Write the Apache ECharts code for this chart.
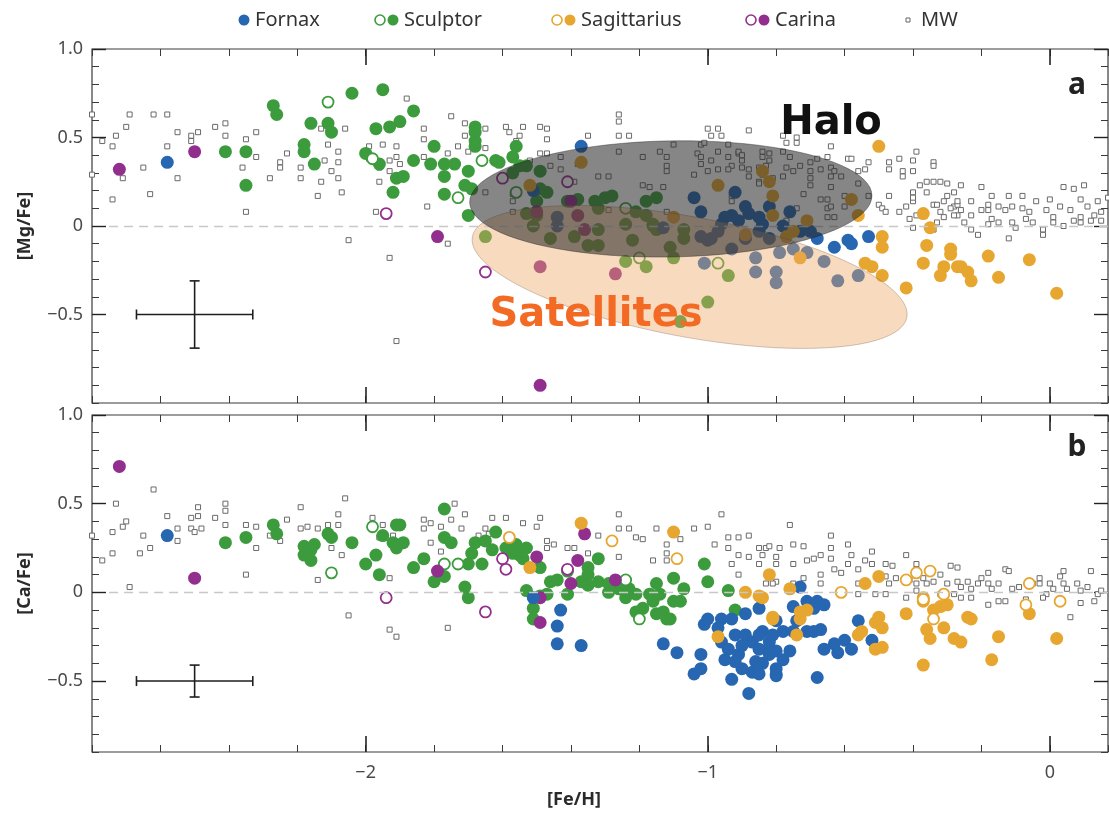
<!DOCTYPE html>
<html><head><meta charset="utf-8">
<script src="https://cdn.jsdelivr.net/npm/echarts@6/dist/echarts.min.js"></script>
<style>html,body{margin:0;padding:0;background:#fff}#c{width:1109px;height:816px}</style>
</head><body><div id="c"></div><script>
// ---------- panel a : [Mg/Fe] vs [Fe/H] ----------
const fornaxMg = [[-2.58,0.36],[-1.37,0.45],[-1.51,0.20],[-1.44,0.05],[-1.44,0.00],[-1.13,-0.01],[-1.04,0.16],[-1.02,0.08],[-1.02,-0.06],[-1.01,-0.21],[-1.00,-0.08],[-0.97,-0.03],[-0.99,-0.07],[-0.95,0.05],[-0.93,0.06],[-0.93,-0.13],[-0.92,0.19],[-0.89,-0.07],[-0.88,0.07],[-0.86,-0.18],[-0.86,-0.26],[-0.85,0.05],[-0.82,-0.07],[-0.82,0.11],[-0.80,-0.26],[-0.80,-0.32],[-0.79,-0.15],[-0.78,0.00],[-0.76,0.08],[-0.75,-0.13],[-0.73,-0.03],[-0.71,-0.15],[-0.70,-0.03],[-0.68,-0.07],[-0.66,-0.20],[-0.63,-0.12],[-0.62,-0.31],[-0.59,-0.08],[-0.58,-0.10],[-0.56,-0.28],[-0.53,-0.06],[-0.91,0.03],[-0.84,0.01],[-0.89,0.11],[-0.96,0.01],[-0.85,-0.03]];
const sculptorMg = [[-2.41,0.42],[-2.35,0.42],[-2.35,0.23],[-2.27,0.68],[-2.26,0.63],[-2.16,0.58],[-2.11,0.58],[-2.10,0.53],[-2.18,0.46],[-2.18,0.42],[-2.15,0.35],[-2.04,0.75],[-1.95,0.77],[-2.00,0.41],[-1.97,0.55],[-1.96,0.35],[-1.93,0.56],[-1.91,0.27],[-1.92,0.19],[-1.86,0.65],[-1.90,0.59],[-1.86,0.37],[-1.80,0.45],[-1.81,0.35],[-1.77,0.35],[-1.74,0.35],[-1.77,0.28],[-1.77,0.18],[-1.70,0.31],[-1.71,0.23],[-1.70,0.06],[-1.68,0.56],[-1.68,0.53],[-1.68,0.48],[-1.68,0.45],[-1.89,0.28],[-1.62,0.37],[-1.56,0.45],[-1.57,0.39],[-1.55,0.34],[-1.49,0.31],[-1.57,0.30],[-1.61,0.36],[-1.53,0.34],[-1.69,0.21],[-1.49,0.21],[-1.47,0.19],[-1.50,0.14],[-1.41,0.14],[-1.38,0.15],[-1.33,0.14],[-1.30,0.16],[-1.28,0.17],[-1.18,0.14],[-1.15,0.16],[-1.32,0.10],[-1.21,0.08],[-1.65,-0.06],[-1.53,0.07],[-1.51,0.00],[-1.46,-0.07],[-1.39,-0.06],[-1.35,-0.11],[-1.32,-0.11],[-1.32,-0.02],[-1.24,0.01],[-1.22,-0.08],[-1.16,0.01],[-1.15,-0.02],[-1.11,-0.12],[-1.07,-0.02],[-1.07,-0.07],[-1.24,-0.20],[-1.18,-0.23],[-1.10,-0.18],[-1.00,-0.43],[-1.08,-0.54],[-0.94,-0.28],[-1.18,0.06],[-1.16,0.00],[-1.50,0.06]];
const sculptorMgOpen = [[-2.11,0.70],[-1.66,0.37],[-1.73,0.16],[-1.56,0.19],[-1.24,0.10],[-1.20,-0.18],[-0.97,-0.21],[-1.98,0.38]];
const sagMg = [[-1.37,0.36],[-1.52,0.23],[-0.97,0.23],[-1.10,0.05],[-0.50,0.45],[-0.84,0.31],[-0.82,0.25],[-0.81,0.17],[-0.81,0.06],[-0.89,-0.05],[-0.71,0.03],[-0.75,-0.03],[-0.77,-0.06],[-0.73,-0.18],[-0.58,0.15],[-0.56,0.06],[-0.49,-0.06],[-0.49,-0.12],[-0.54,-0.21],[-0.52,-0.23],[-0.49,-0.28],[-0.42,-0.35],[-0.37,0.07],[-0.35,-0.01],[-0.36,-0.11],[-0.37,-0.21],[-0.32,-0.28],[-0.31,-0.23],[-0.29,-0.16],[-0.27,-0.23],[-0.29,-0.13],[-0.26,-0.23],[-0.24,-0.26],[-0.23,-0.31],[-0.18,-0.17],[-0.15,-0.29],[-0.06,-0.19],[0.02,-0.38]];
const carinaMg = [[-2.72,0.32],[-2.50,0.42],[-1.79,-0.06],[-1.49,-0.90],[-1.49,-0.23],[-1.27,-0.27],[-1.50,0.08],[-1.38,0.06],[-1.36,-0.02],[-1.40,0.14]];
const carinaMgOpen = [[-1.94,0.07],[-1.65,-0.26],[-1.41,0.25],[-1.60,0.27]];
const mwMg = [[-2.80,0.63],[-2.80,0.29],[-2.69,0.63],[-2.62,0.63],[-2.58,0.63],[-2.70,0.56],[-2.73,0.51],[-2.74,0.45],[-2.77,0.48],[-2.71,0.27],[-2.74,0.15],[-2.65,0.33],[-2.63,0.18],[-2.55,0.27],[-2.58,0.45],[-2.55,0.53],[-2.51,0.51],[-2.49,0.53],[-2.51,0.48],[-2.44,0.56],[-2.41,0.58],[-2.41,0.51],[-2.36,0.33],[-2.35,0.49],[-2.35,0.08],[-2.32,0.53],[-2.32,0.39],[-2.28,0.27],[-2.25,0.36],[-2.25,0.33],[-2.23,0.41],[-2.19,0.27],[-2.19,0.33],[-2.13,0.25],[-2.14,0.17],[-2.13,0.55],[-2.11,0.46],[-2.10,0.31],[-2.08,0.42],[-2.08,0.36],[-2.08,0.27],[-2.07,0.19],[-2.06,0.55],[-2.05,-0.08],[-2.12,0.37],[-1.99,0.45],[-1.99,0.38],[-1.97,0.08],[-1.96,0.33],[-1.96,0.25],[-1.93,0.31],[-1.93,-0.18],[-1.91,-0.65],[-1.91,0.45],[-1.91,0.39],[-1.95,0.46],[-1.93,0.37],[-1.90,0.35],[-1.88,0.72],[-1.83,0.55],[-1.83,0.49],[-1.83,0.39],[-1.82,0.11],[-1.76,0.41],[-1.76,-0.10],[-1.73,0.45],[-1.75,0.62],[-1.71,0.58],[-1.71,0.51],[-1.70,0.42],[-1.65,0.44],[-1.65,0.55],[-1.59,0.56],[-1.58,0.53],[-1.54,0.56],[-1.49,0.56],[-1.47,0.55],[-1.47,0.49],[-1.43,0.32],[-1.49,0.41],[-1.55,0.51],[-1.52,0.37],[-1.57,0.14],[-1.57,0.08],[-1.57,0.18],[-1.65,0.19],[-1.35,0.51],[-1.26,0.63],[-1.26,0.59],[-1.26,0.51],[-1.23,0.51],[-1.26,0.42],[-1.19,0.39],[-1.14,0.42],[-1.12,0.39],[-1.10,0.46],[-1.03,0.41],[-1.04,0.29],[-1.02,0.35],[-1.02,0.46],[-1.00,0.55],[-0.97,0.55],[-0.96,0.51],[-0.94,0.46],[-0.91,0.41],[-0.90,0.37],[-0.88,0.54],[-0.93,0.34],[-0.93,0.17],[-0.93,0.14],[-0.84,0.42],[-0.84,0.39],[-0.83,0.34],[-0.85,0.25],[-0.88,0.32],[-1.19,0.23],[-1.12,0.34],[-1.12,0.31],[-1.12,0.08],[-1.13,0.22],[-1.17,0.22],[-1.29,0.28],[-1.32,0.28],[-1.39,0.25],[-1.40,0.14],[-1.29,0.09],[-1.43,0.39],[-1.38,0.35],[-1.47,0.41],[-1.56,0.48],[-1.46,0.34],[-1.48,0.20],[-0.99,0.51],[-0.91,0.42],[-0.90,0.40],[-0.82,0.41],[-0.82,0.37],[-0.78,0.42],[-0.76,0.39],[-0.74,0.47],[-0.70,0.36],[-0.68,0.38],[-0.70,0.31],[-0.67,0.32],[-0.64,0.45],[-0.65,0.39],[-0.64,0.33],[-0.63,0.31],[-0.70,0.27],[-0.70,0.23],[-0.67,0.15],[-0.65,0.15],[-0.65,0.10],[-0.64,0.22],[-0.64,0.28],[-0.61,0.28],[-0.59,0.38],[-0.58,0.38],[-0.56,0.31],[-0.54,0.32],[-0.53,0.36],[-0.56,0.24],[-0.60,0.11],[-0.53,0.17],[-0.50,0.12],[-0.49,0.10],[-0.48,0.08],[-0.47,0.17],[-0.47,0.36],[-0.47,0.32],[-0.44,0.38],[-0.43,0.31],[-0.43,0.28],[-0.40,0.37],[-0.40,0.19],[-0.40,0.14],[-0.39,0.42],[-0.36,0.25],[-0.34,0.36],[-0.34,0.12],[-0.32,0.08],[-0.30,0.24],[-0.30,0.17],[-0.28,0.11],[-0.27,0.12],[-0.27,0.06],[-0.44,0.08],[-0.42,0.11],[-0.39,0.06],[-0.41,0.04],[-0.40,-0.01],[-0.90,0.33],[-0.88,0.28],[-0.85,0.33],[-0.84,0.29],[-0.85,0.24],[-0.81,0.27],[-0.78,0.28],[-0.77,0.33],[-0.75,0.31],[-0.73,0.34],[-0.97,0.42],[-0.94,0.39],[-0.94,0.32],[-0.99,0.37],[-1.00,0.31],[-0.97,0.32],[-1.02,0.39],[-1.01,0.47],[-0.78,0.51],[-0.74,0.50],[-0.77,0.47],[-0.72,0.18],[-0.74,0.10],[-0.77,0.03],[-0.65,0.05],[-0.63,0.05],[-0.64,0.11],[-0.60,0.17],[-0.20,0.22],[-0.38,0.23],[-0.36,0.19],[-0.34,0.34],[-0.40,0.31],[-0.40,0.16],[-0.33,0.12],[-0.31,0.14],[-0.29,0.10],[-0.27,0.14],[-0.28,0.06],[-0.26,0.09],[-0.25,0.02],[-0.23,0.06],[-0.23,0.14],[-0.20,0.09],[-0.18,0.12],[-0.18,0.09],[-0.17,0.04],[-0.15,0.11],[-0.13,0.09],[-0.11,0.11],[-0.08,0.17],[-0.08,0.10],[-0.06,0.08],[-0.04,0.14],[-0.01,0.09],[0.00,0.15],[0.01,0.05],[0.03,0.11],[0.04,0.22],[0.06,0.09],[0.09,0.15],[0.10,0.23],[0.11,0.11],[0.14,0.14],[0.15,0.03],[0.17,0.16],[-0.26,0.23],[-0.28,0.19],[-0.32,0.25],[-0.34,0.25],[-0.31,0.05],[-0.23,-0.02],[-0.21,-0.05],[-0.12,-0.07],[-0.10,-0.01],[-0.02,-0.02],[-0.02,-0.05],[0.04,0.00],[0.09,0.02],[-0.15,0.02],[-0.18,0.01],[-0.33,0.02],[-0.34,-0.02],[-0.11,0.02],[-0.07,0.04],[0.01,0.02],[0.07,0.03],[0.12,0.03],[0.13,0.06],[0.09,0.05],[-0.05,0.02],[-0.17,0.17],[-0.12,0.17],[0.07,0.21],[0.15,0.08]];

// ---------- panel b : [Ca/Fe] vs [Fe/H] ----------
const fornaxCa = [[-2.58,0.32],[-1.51,-0.03],[-1.43,-0.10],[-1.44,-0.19],[-1.44,-0.29],[-1.37,-0.30],[-1.13,-0.29],[-1.09,-0.34],[-1.02,-0.35],[-1.04,-0.46],[-1.02,-0.43],[-1.00,-0.15],[-1.01,-0.18],[-0.96,-0.15],[-0.93,-0.49],[-0.88,-0.57],[-0.96,-0.28],[-0.94,-0.32],[-0.93,-0.15],[-0.92,-0.24],[-0.91,-0.35],[-0.89,-0.12],[-0.89,-0.24],[-0.87,-0.28],[-0.86,-0.39],[-0.84,-0.22],[-0.82,-0.32],[-0.80,-0.46],[-0.80,-0.33],[-0.87,-0.45],[-0.90,-0.43],[-0.92,-0.39],[-0.85,-0.09],[-0.85,-0.24],[-0.85,-0.32],[-0.85,-0.46],[-0.82,-0.28],[-0.82,-0.35],[-0.80,-0.43],[-0.80,-0.47],[-0.78,-0.22],[-0.76,-0.33],[-0.75,-0.08],[-0.74,-0.16],[-0.73,0.03],[-0.71,-0.05],[-0.71,-0.22],[-0.69,-0.09],[-0.69,-0.22],[-0.68,-0.05],[-0.66,-0.07],[-0.67,-0.21],[-0.66,-0.32],[-0.63,-0.29],[-0.62,-0.34],[-0.60,-0.27],[-0.58,-0.32],[-0.56,-0.16],[-0.52,-0.27],[-0.68,-0.48],[-0.75,-0.22],[-0.80,-0.16],[-0.81,-0.24],[-0.97,-0.20],[-0.95,-0.38],[-0.90,-0.30],[-0.84,-0.40],[-0.78,-0.38]];
const sculptorCa = [[-2.41,0.28],[-2.35,0.31],[-2.27,0.38],[-2.26,0.33],[-2.18,0.26],[-2.15,0.27],[-2.18,0.21],[-2.16,0.18],[-2.11,0.33],[-2.10,0.31],[-2.04,0.28],[-2.00,0.16],[-1.97,0.21],[-1.96,0.10],[-1.95,0.32],[-1.91,0.38],[-1.92,0.28],[-1.90,0.38],[-1.91,0.25],[-1.89,0.28],[-1.86,0.14],[-1.83,0.19],[-1.80,0.06],[-1.77,0.47],[-1.77,0.31],[-1.75,0.28],[-1.77,0.09],[-1.71,0.03],[-1.70,-0.03],[-1.70,0.16],[-1.68,0.28],[-1.65,0.29],[-1.66,0.16],[-1.62,0.34],[-1.69,0.22],[-1.63,0.24],[-1.59,0.25],[-1.56,0.27],[-1.57,0.22],[-1.55,0.21],[-1.53,0.25],[-1.54,0.19],[-1.53,0.01],[-1.51,-0.09],[-1.51,-0.15],[-1.49,0.14],[-1.46,0.06],[-1.47,-0.01],[-1.41,-0.01],[-1.41,0.12],[-1.35,0.14],[-1.35,0.10],[-1.32,0.19],[-1.37,0.06],[-1.32,0.06],[-1.29,0.05],[-1.26,0.02],[-1.23,0.02],[-1.21,-0.01],[-1.24,-0.03],[-1.17,-0.01],[-1.15,0.05],[-1.21,-0.11],[-1.19,-0.09],[-1.15,-0.12],[-1.16,-0.05],[-1.13,-0.11],[-1.11,-0.15],[-1.10,-0.05],[-1.08,-0.05],[-1.07,0.02],[-1.10,0.08],[-1.01,0.16],[-1.00,0.06],[-0.94,0.01],[-0.92,-0.10],[-1.14,-0.01],[-1.12,-0.15],[-1.35,0.04],[-1.29,0.00],[-1.44,0.07],[-1.49,-0.02],[-2.16,0.24]];
const sculptorCaOpen = [[-2.10,0.11],[-1.98,0.37],[-1.77,0.16],[-1.73,0.16],[-1.24,0.07],[-1.20,-0.15]];
const sagCa = [[-1.37,0.39],[-1.52,0.14],[-1.10,0.34],[-0.97,-0.25],[-0.89,0.00],[-0.84,-0.03],[-0.82,0.10],[-0.81,-0.15],[-0.76,0.02],[-0.85,-0.02],[-0.81,-0.14],[-0.73,-0.15],[-0.73,-0.11],[-0.74,-0.24],[-0.71,-0.10],[-0.56,-0.24],[-0.55,-0.22],[-0.51,-0.17],[-0.50,-0.14],[-0.49,-0.20],[-0.51,-0.32],[-0.49,-0.31],[-0.54,0.05],[-0.50,0.09],[-0.42,-0.12],[-0.37,-0.03],[-0.37,-0.05],[-0.36,-0.21],[-0.35,-0.26],[-0.37,-0.41],[-0.32,-0.08],[-0.30,-0.07],[-0.31,-0.20],[-0.28,-0.26],[-0.26,-0.28],[-0.24,-0.14],[-0.23,-0.15],[-0.17,-0.38],[-0.15,-0.25],[-0.06,-0.12],[0.02,-0.26],[-0.34,-0.10]];
const sagCaOpen = [[-1.58,0.31],[-1.28,0.29],[-1.09,0.19],[-0.61,0.00],[-0.42,0.07],[-0.39,0.11],[-0.35,0.12],[-0.31,-0.01],[-0.34,-0.15],[-0.06,0.05],[-0.07,-0.07],[0.03,-0.05],[-0.37,-0.04]];
const carinaCa = [[-2.72,0.71],[-2.50,0.08],[-1.79,0.12],[-1.50,0.20],[-1.49,-0.03],[-1.49,-0.17],[-1.38,0.18],[-1.36,0.33],[-1.40,0.05],[-1.27,0.07]];
const carinaCaOpen = [[-1.94,-0.03],[-1.65,-0.11],[-1.60,0.19],[-1.59,0.13],[-1.41,0.13]];
const mwCa = [[-2.62,0.58],[-2.73,0.50],[-2.80,0.32],[-2.77,0.18],[-2.74,0.22],[-2.74,0.34],[-2.71,0.37],[-2.70,0.40],[-2.69,0.03],[-2.65,0.32],[-2.66,0.22],[-2.63,0.25],[-2.58,0.43],[-2.55,0.36],[-2.55,0.29],[-2.51,0.42],[-2.49,0.48],[-2.49,0.43],[-2.51,0.36],[-2.50,0.34],[-2.48,0.36],[-2.44,0.42],[-2.41,0.50],[-2.41,0.46],[-2.41,0.38],[-2.35,0.38],[-2.35,0.10],[-2.32,0.37],[-2.32,0.25],[-2.23,0.41],[-2.28,0.32],[-2.25,0.29],[-2.19,0.48],[-2.19,0.36],[-2.17,0.37],[-2.14,0.36],[-2.14,0.07],[-2.11,0.38],[-2.08,0.38],[-2.08,0.44],[-2.06,0.53],[-2.07,0.21],[-2.10,0.25],[-2.05,-0.13],[-1.93,-0.21],[-1.91,-0.25],[-1.93,0.08],[-1.98,0.42],[-1.95,0.38],[-1.96,0.31],[-1.92,0.32],[-1.83,0.41],[-1.83,0.36],[-1.81,0.39],[-1.75,0.41],[-1.74,0.50],[-1.71,0.44],[-1.72,0.36],[-1.76,-0.20],[-1.78,0.23],[-1.67,0.32],[-1.64,0.33],[-1.65,0.36],[-1.81,0.28],[-1.78,0.37],[-1.63,0.42],[-1.59,0.42],[-1.54,0.39],[-1.50,0.37],[-1.49,0.42],[-1.47,0.29],[-1.47,0.25],[-1.45,0.27],[-1.41,0.25],[-1.39,0.25],[-1.35,0.22],[-1.32,0.32],[-1.26,0.44],[-1.26,0.36],[-1.23,0.36],[-1.21,0.31],[-1.19,0.30],[-1.26,0.20],[-1.15,0.36],[-1.12,0.27],[-1.12,0.22],[-1.12,0.18],[-1.16,0.18],[-1.08,0.30],[-1.04,0.36],[-1.00,0.37],[-0.96,0.44],[-0.98,0.27],[-0.94,0.31],[-0.94,0.25],[-0.91,0.31],[-0.91,0.21],[-0.88,0.32],[-0.85,0.25],[-0.84,0.21],[-0.83,0.25],[-0.93,0.16],[-0.91,0.10],[-0.85,0.16],[-0.83,0.05],[-0.80,0.06],[-0.88,0.20],[-0.80,0.20],[-0.76,0.38],[-0.64,0.32],[-0.82,0.26],[-0.79,0.25],[-0.75,0.27],[-0.72,0.26],[-0.80,0.16],[-0.75,0.16],[-0.71,0.18],[-0.69,0.19],[-0.67,0.21],[-0.64,0.25],[-0.64,0.19],[-0.63,0.13],[-0.59,0.27],[-0.58,0.21],[-0.59,0.16],[-0.56,0.13],[-0.52,0.23],[-0.52,0.16],[-0.54,0.18],[-0.67,0.10],[-0.67,0.05],[-0.72,0.08],[-0.61,0.11],[-0.56,0.05],[-0.56,-0.01],[-0.51,-0.01],[-0.48,0.16],[-0.48,0.09],[-0.47,0.05],[-0.46,0.15],[-0.45,0.08],[-0.48,-0.01],[-0.42,0.21],[-0.39,0.16],[-0.41,0.07],[-0.39,0.05],[-0.37,0.08],[-0.36,0.05],[-0.34,0.06],[-0.32,0.10],[-0.30,0.05],[-0.29,0.15],[-0.27,0.06],[-0.26,0.03],[-0.24,0.06],[-0.23,0.02],[-0.21,0.05],[-0.20,0.08],[-0.18,0.05],[-0.17,0.02],[-0.18,0.11],[-0.13,0.13],[-0.15,0.05],[-0.11,0.02],[-0.09,0.03],[-0.05,0.05],[-0.03,0.05],[-0.01,-0.01],[0.00,0.05],[0.01,0.02],[0.04,0.05],[0.05,0.02],[0.08,0.05],[0.09,0.01],[0.12,0.12],[0.11,0.03],[0.14,-0.01],[0.15,0.01],[0.13,-0.05],[0.09,-0.06],[0.06,-0.14],[-0.02,-0.03],[-0.07,-0.04],[-0.15,-0.05],[-0.23,-0.03],[-0.26,-0.03],[-0.28,-0.01],[-0.32,-0.01],[-0.39,0.01],[-0.42,-0.03],[-0.18,-0.07],[-0.13,-0.05],[0.03,0.09],[-0.03,0.08],[0.04,0.12],[-0.12,0.12],[-0.27,0.14],[-0.39,0.13],[-0.75,0.05],[-0.81,0.05]];

// axis ticks / error bars
const xRange = [-2.8, 0.17];
const xTickLabels = [-2, -1, 0];
const yTickLabels = [-0.5, 0, 0.5, 1.0];
const yRangeMg = [-1.0, 1.0];
const yRangeCa = [-0.9, 1.0];
const errBarMg = [-2.5, -0.5, 0.17, 0.19];
const errBarCa = [-2.5, -0.5, 0.17, 0.09];
// region annotations: centre x, centre y, semi-axis x, semi-axis y (data units)
const haloRegion = [-1.108, 0.153, 0.588, 0.328];
const satRegion = [-1.053, -0.288, 0.646, 0.339];

const C = {fornax:'#2766b0', sculptor:'#3c9c3d', sag:'#e6a630', carina:'#922f8e', mw:'#666'};
const FONT = '"Noto Sans", "Open Sans", sans-serif';
const fmtY = v => v === 0 ? '0' : (v < 0 ? '\u2212' : '') + Math.abs(v).toFixed(1);
const fmtX = v => v === 0 ? '0' : (v < 0 ? '\u2212' : '') + Math.abs(v);

const grids = [
  {left:92, top:49, width:1016, height:354, show:true, borderColor:'#3a3a3a', borderWidth:1.2},
  {left:92, top:415, width:1016, height:337, show:true, borderColor:'#3a3a3a', borderWidth:1.2}
];
const tickStyle = {color:'#3a3a3a', width:1};
const xAxes = [], yAxes = [];
[0,1].forEach(g => {
  ['bottom','top'].forEach(pos => {
    xAxes.push({gridIndex:g, type:'value', position:pos, min:xRange[0], max:xRange[1], interval:0.2,
      axisLine:{show:false, onZero:false}, splitLine:{show:false}, axisLabel:{show:false},
      axisTick:{show:true, inside:true, length:7, lineStyle:tickStyle}});
    const showLab = (g === 1 && pos === 'bottom');
    xAxes.push({gridIndex:g, type:'value', position:pos, min:xRange[0], max:xRange[1],
      axisLine:{show:false, onZero:false}, splitLine:{show:false},
      axisLabel:{show:showLab, customValues:xTickLabels, formatter:fmtX, fontSize:18, color:'#4a4a4a', fontFamily:FONT, margin:12},
      axisTick:{show:true, inside:true, length:16, customValues:xTickLabels, lineStyle:{color:'#222', width:1.6}}});
  });
  const yr = g === 0 ? yRangeMg : yRangeCa;
  ['left','right'].forEach(pos => {
    yAxes.push({gridIndex:g, type:'value', position:pos, min:yr[0], max:yr[1], interval:0.1,
      axisLine:{show:false, onZero:false}, splitLine:{show:false}, axisLabel:{show:false},
      axisTick:{show:true, inside:true, length:7, lineStyle:tickStyle}});
    const lab = pos === 'left';
    yAxes.push({gridIndex:g, type:'value', position:pos, min:yr[0], max:yr[1],
      name: lab ? (g === 0 ? '[Mg/Fe]' : '[Ca/Fe]') : '',
      nameLocation:'middle', nameGap:58, nameRotate:90,
      nameTextStyle:{fontSize:18, fontWeight:'bold', color:'#2a2a2a', fontFamily:FONT},
      axisLine:{show:false, onZero:false}, splitLine:{show:false},
      axisLabel:{show:lab, customValues:yTickLabels, formatter:fmtY, fontSize:18, color:'#4a4a4a', fontFamily:FONT, margin:9},
      axisTick:{show:true, inside:true, length:14, customValues:yTickLabels, lineStyle:{color:'#222', width:1.4}}});
  });
});
// main axes: x 0 / y 0 (panel a), x 4 / y 4 (panel b)
const AX = [{x:0, y:0}, {x:4, y:4}];

function scatter(name, data, g, color, open, z) {
  return {type:'scatter', name, data, xAxisIndex:AX[g].x, yAxisIndex:AX[g].y,
    symbol:'circle', symbolSize: open ? 11 : 13, z: z || 3,
    itemStyle: open ? {color:'#fff', borderColor:color, borderWidth:1.8, opacity:1} : {color:color, opacity:1},
    emphasis:{disabled:true}, silent:true};
}
function mw(data, g) {
  return {type:'scatter', name:'MW', data, xAxisIndex:AX[g].x, yAxisIndex:AX[g].y,
    symbol:'rect', symbolSize:5, z:2,
    itemStyle:{color:'#fff', borderColor:'#6a6a6a', borderWidth:1, opacity:1},
    emphasis:{disabled:true}, silent:true,
    markLine:{silent:true, symbol:'none', label:{show:false},
      lineStyle:{type:[9,6], color:'#c8c8c8', width:1.3},
      data:[[{coord:[-2.75,0]},{coord:[xRange[1],0]}]]}};
}
function errBar(v, g) {
  return {type:'custom', data:[v], xAxisIndex:AX[g].x, yAxisIndex:AX[g].y, z:6, silent:true,
    encode:{x:0, y:1},
    renderItem:(p, api) => {
      const x = api.value(0), y = api.value(1), dx = api.value(2), dy = api.value(3);
      const l = api.coord([x-dx, y]), r = api.coord([x+dx, y]);
      const t = api.coord([x, y+dy]), b = api.coord([x, y-dy]);
      const st = {stroke:'#1e1e1e', lineWidth:1.6}, cap = 5;
      const ln = (x1,y1,x2,y2) => ({type:'line', shape:{x1,y1,x2,y2}, style:st});
      return {type:'group', children:[
        ln(l[0],l[1],r[0],r[1]), ln(t[0],t[1],b[0],b[1]),
        ln(l[0],l[1]-cap,l[0],l[1]+cap), ln(r[0],r[1]-cap,r[0],r[1]+cap),
        ln(t[0]-cap,t[1],t[0]+cap,t[1]), ln(b[0]-cap,b[1],b[0]+cap,b[1])]};
    }};
}
function region(v, angleDeg, style, z) {
  return {type:'custom', data:[v], xAxisIndex:0, yAxisIndex:0, z, silent:true, encode:{x:0, y:1},
    renderItem:(p, api) => {
      const c = api.coord([api.value(0), api.value(1)]);
      const rx = api.size([api.value(2), 0])[0], ry = api.size([0, api.value(3)])[1];
      const a = angleDeg * Math.PI / 180, pts = [];
      for (let i = 0; i < 90; i++) {
        const t = i / 90 * 2 * Math.PI;
        pts.push([c[0] + rx*Math.cos(t)*Math.cos(a) - ry*Math.sin(t)*Math.sin(a),
                  c[1] + rx*Math.cos(t)*Math.sin(a) + ry*Math.sin(t)*Math.cos(a)]);
      }
      return {type:'polygon', shape:{points:pts}, style};
    }};
}

const series = [
  mw(mwMg, 0),
  scatter('Sculptor', sculptorMg, 0, C.sculptor, false),
  scatter('Sculptor open', sculptorMgOpen, 0, C.sculptor, true),
  scatter('Carina', carinaMg, 0, C.carina, false),
  scatter('Carina open', carinaMgOpen, 0, C.carina, true),
  scatter('Fornax', fornaxMg, 0, C.fornax, false),
  scatter('Sagittarius', sagMg, 0, C.sag, false),
  region(satRegion, 10.5, {fill:'rgba(238,168,100,0.42)', stroke:'rgba(120,100,80,0.35)', lineWidth:1}, 4),
  region(haloRegion, -1, {fill:'rgba(40,40,40,0.56)', stroke:'rgba(30,30,30,0.4)', lineWidth:1}, 5),
  errBar(errBarMg, 0),
  mw(mwCa, 1),
  scatter('Sculptor', sculptorCa, 1, C.sculptor, false),
  scatter('Sculptor open', sculptorCaOpen, 1, C.sculptor, true),
  scatter('Carina', carinaCa, 1, C.carina, false),
  scatter('Carina open', carinaCaOpen, 1, C.carina, true),
  scatter('Fornax', fornaxCa, 1, C.fornax, false),
  scatter('Sagittarius', sagCa, 1, C.sag, false),
  scatter('Sagittarius open', sagCaOpen, 1, C.sag, true),
  errBar(errBarCa, 1)
];

// legend (drawn as graphics to reproduce open+filled marker pairs)
const legendItems = [
  {label:'Fornax', open:null, color:C.fornax, x:244},
  {label:'Sculptor', open:true, color:C.sculptor, x:380},
  {label:'Sagittarius', open:true, color:C.sag, x:557},
  {label:'Carina', open:true, color:C.carina, x:751},
  {label:'MW', mw:true, color:C.mw, x:908}
];
const LY = 20;
const graphics = [];
legendItems.forEach(it => {
  let tx;
  if (it.mw) {
    graphics.push({type:'rect', shape:{x:it.x-2, y:LY-2, width:4, height:4}, style:{fill:'#fff', stroke:'#666', lineWidth:1}});
    tx = it.x + 13;
  } else if (it.open) {
    graphics.push({type:'circle', shape:{cx:it.x, cy:LY, r:5}, style:{fill:'#fff', stroke:it.color, lineWidth:1.6}});
    graphics.push({type:'circle', shape:{cx:it.x+13, cy:LY, r:5.5}, style:{fill:it.color}});
    tx = it.x + 24;
  } else {
    graphics.push({type:'circle', shape:{cx:it.x, cy:LY, r:5.5}, style:{fill:it.color}});
    tx = it.x + 11;
  }
  graphics.push({type:'text', x:tx, y:LY, style:{text:it.label, fontSize:20, fontFamily:FONT, fill:'#333', verticalAlign:'middle', align:'left'}});
});
graphics.push({type:'text', x:831, y:124, z:100, style:{text:'Halo', fontSize:40, fontWeight:'bold', fontFamily:'"DejaVu Sans", sans-serif', fill:'#111', align:'center', verticalAlign:'middle'}});
graphics.push({type:'text', x:596, y:316, z:100, style:{text:'Satellites', fontSize:40, fontWeight:'bold', fontFamily:'"DejaVu Sans", sans-serif', fill:'#f26a24', align:'center', verticalAlign:'middle'}});
graphics.push({type:'text', x:1077, y:85, z:100, style:{text:'a', fontSize:30, fontWeight:'bold', fontFamily:FONT, fill:'#222', align:'center', verticalAlign:'middle'}});
graphics.push({type:'text', x:1077, y:447, z:100, style:{text:'b', fontSize:30, fontWeight:'bold', fontFamily:FONT, fill:'#222', align:'center', verticalAlign:'middle'}});
graphics.push({type:'text', x:574, y:800, z:100, style:{text:'[Fe/H]', fontSize:18, fontWeight:'bold', fontFamily:FONT, fill:'#2a2a2a', align:'center', verticalAlign:'middle'}});

const chart = echarts.init(document.getElementById('c'), null, {renderer:'canvas'});
chart.setOption({
  animation:false,
  backgroundColor:'#fff',
  textStyle:{fontFamily:FONT},
  grid:grids, xAxis:xAxes, yAxis:yAxes,
  series, graphic:graphics
});
</script></body></html>
